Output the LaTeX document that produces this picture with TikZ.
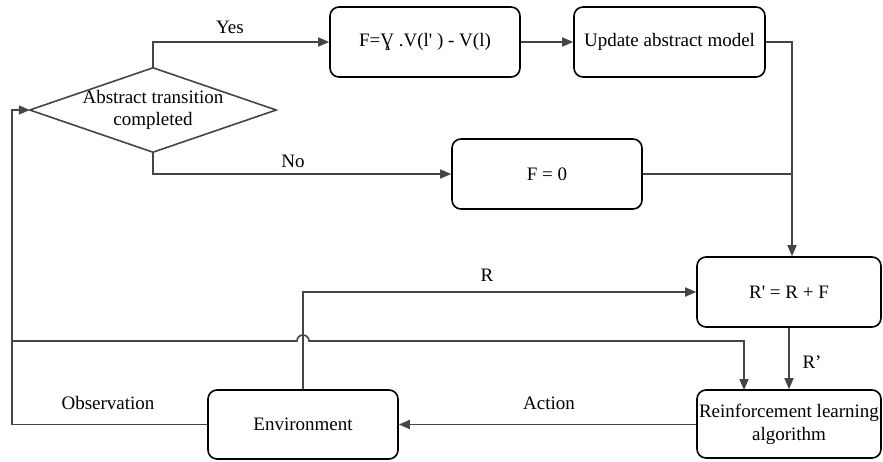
\documentclass[tikz,border=0pt]{standalone}
\usepackage{fontspec}
\setmainfont{Liberation Serif}[Ligatures=TeXOff]
\usetikzlibrary{arrows.meta}
\definecolor{ln}{HTML}{454545}
\tikzset{
  box/.style={draw=black, line width=1.6pt, rounded corners=9pt, minimum width=190pt, minimum height=70pt, inner sep=0pt, align=center, font=\fontsize{19}{23}\selectfont},
  conn/.style={draw=ln, line width=1.6pt},
  arr/.style={conn, -{Triangle[length=11pt,width=9pt]}},
  lbl/.style={font=\fontsize{19}{23}\selectfont, inner sep=0pt}
}
\begin{document}
\begin{tikzpicture}[x=1pt,y=-1pt]
\useasboundingbox (0,0) rectangle (883,461);
% nodes
\node[minimum width=246pt, minimum height=84pt, inner sep=0pt, align=center, font=\fontsize{19}{22}\selectfont] (dia) at (153,110) {Abstract transition\\completed};
\draw[conn] (dia.west) -- (dia.north) -- (dia.east) -- (dia.south) -- cycle;
\node[box] (b1) at (425,42) {F=Ɣ .V(l' ) - V(l)};
\node[box, minimum width=191pt] (b2) at (669.5,42) {Update abstract model};
\node[box] (f0) at (547,174) {F = 0};
\node[box, minimum width=184pt] (rp) at (789,292) {R' = R + F};
\node[box, minimum width=184pt, minimum height=68pt] (rl) at (789,424) {Reinforcement learning\\algorithm};
\node[box, minimum height=69pt] (env) at (303,424.5) {Environment};
% coordinates
\coordinate (cl) at (12,110);
\coordinate (brk) at (12,341);
\coordinate (rlin) at (744,390);
\coordinate (vx) at (792,42);
% connectors
\draw[arr] (dia.north) |- (b1.west);
\draw[arr] (dia.south) |- (f0.west);
\draw[arr] (b1.east) -- (b2.west);
\draw[arr] (b2.east) -- (vx) -- (vx |- rp.north);
\draw[conn] (f0.east) -- (f0.east -| vx);
\draw[arr] (env.north) |- (rp.west);
\draw[arr] (rp.south) -- (rl.north);
\draw[arr] (env.west) -| (cl) -- (dia.west);
\draw[arr] (brk) -- (297,341) arc[start angle=180, end angle=0, radius=6pt] -- (rlin |- brk) -- (rlin);
\draw[arr] (rl.west |- env.east) -- (env.east);
% labels
\node[lbl] (lyes) at (230,27) {Yes};
\node[lbl] (lno) at (293,161) {No};
\node[lbl] (lr) at (487,275) {R};
\node[lbl] (lrp) at (812,362) {R’};
\node[lbl] (lact) at (549,403) {Action};
\node[lbl] (lobs) at (108,403) {Observation};
\end{tikzpicture}
\end{document}
